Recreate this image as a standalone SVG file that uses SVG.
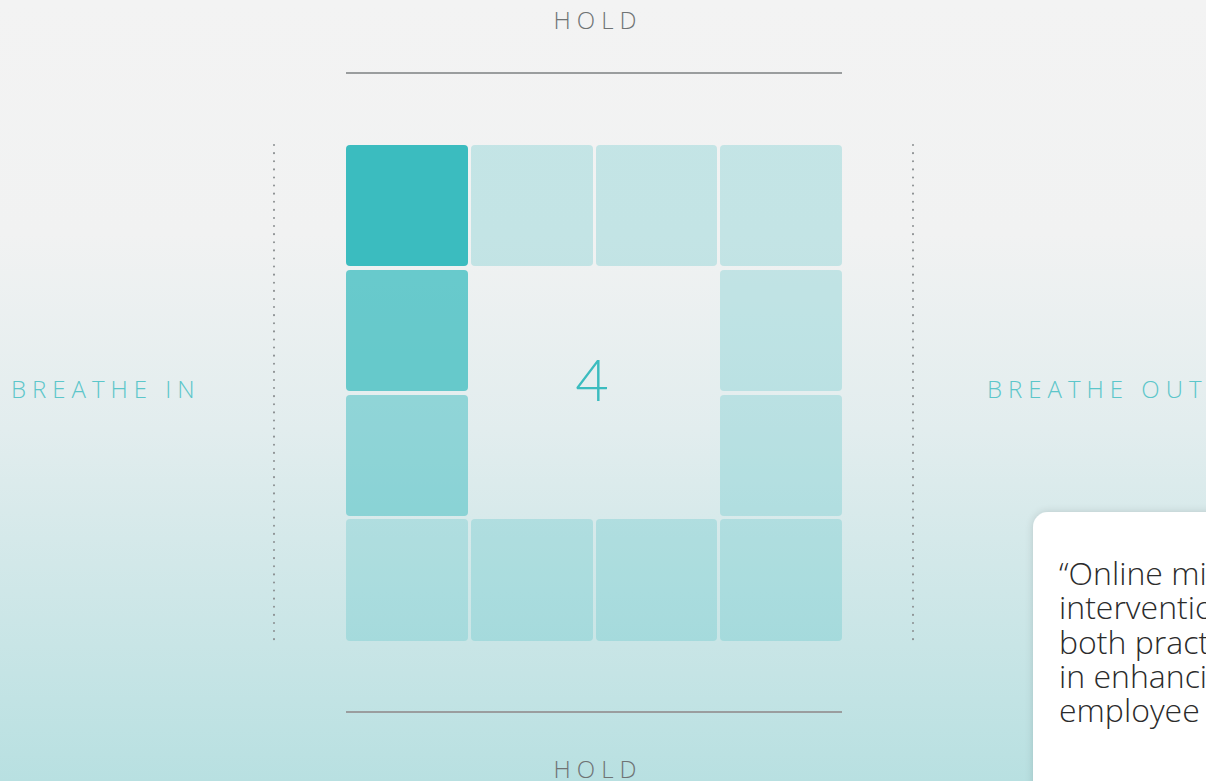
<svg xmlns="http://www.w3.org/2000/svg" width="1206" height="781" viewBox="0 0 1206 781">
<defs>
<linearGradient id="bg" x1="0" y1="0" x2="0" y2="1">
<stop offset="0" stop-color="#f3f3f3"/>
<stop offset="0.3" stop-color="#f1f2f2"/>
<stop offset="0.55" stop-color="#e2edee"/>
<stop offset="1" stop-color="#b8e0e1"/>
</linearGradient>
<filter id="sh" x="-20%" y="-20%" width="140%" height="140%">
<feGaussianBlur in="SourceAlpha" stdDeviation="4"/>
<feOffset dx="0" dy="0"/>
<feComponentTransfer><feFuncA type="linear" slope="0.15"/></feComponentTransfer>
<feMerge><feMergeNode/><feMergeNode in="SourceGraphic"/></feMerge>
</filter>
<style>
.lbl{font-family:"Open Sans","Liberation Sans",sans-serif;font-weight:300;font-size:24px;letter-spacing:6px}
.hold{fill:#6f7374}
.br{fill:#5cc6ca}
.cell{fill:#3bbcbf}
.rule{stroke:#9a9d9e;stroke-width:2}
.dots{stroke:#8a8e90;stroke-width:2;stroke-linecap:round;stroke-dasharray:0.1 8}
.quote{font-family:"Open Sans","Liberation Sans",sans-serif;font-weight:300;font-size:32px;fill:#2b2b2b}
</style>
</defs>
<rect x="0" y="0" width="1206" height="781" fill="url(#bg)"/>

<g id="labels">
<text class="lbl hold" x="598" y="29" text-anchor="middle">HOLD</text>
<text class="lbl hold" x="598" y="778" text-anchor="middle">HOLD</text>
<text class="lbl br" x="11" y="398">BREATHE IN</text>
<text class="lbl br" x="987" y="398">BREATHE OUT</text>
</g>

<g id="guides">
<line class="rule" x1="346" y1="73" x2="842" y2="73"/>
<line class="rule" x1="346" y1="712" x2="842" y2="712"/>
<line class="dots" x1="274" y1="145" x2="274" y2="641"/>
<line class="dots" x1="913" y1="145" x2="913" y2="641"/>
</g>

<g id="grid">
<rect class="cell" x="346" y="145" width="122" height="121" rx="4"/>
<rect class="cell" x="471" y="145" width="122" height="121" rx="4" opacity="0.25"/>
<rect class="cell" x="596" y="145" width="121" height="121" rx="4" opacity="0.25"/>
<rect class="cell" x="720" y="145" width="122" height="121" rx="4" opacity="0.25"/>
<rect class="cell" x="346" y="270" width="122" height="121" rx="4" opacity="0.75"/>
<rect class="cell" x="720" y="270" width="122" height="121" rx="4" opacity="0.25"/>
<rect class="cell" x="346" y="395" width="122" height="121" rx="4" opacity="0.5"/>
<rect class="cell" x="720" y="395" width="122" height="121" rx="4" opacity="0.25"/>
<rect class="cell" x="346" y="519" width="122" height="122" rx="4" opacity="0.25"/>
<rect class="cell" x="471" y="519" width="122" height="122" rx="4" opacity="0.25"/>
<rect class="cell" x="596" y="519" width="121" height="122" rx="4" opacity="0.25"/>
<rect class="cell" x="720" y="519" width="122" height="122" rx="4" opacity="0.25"/>
<text x="592" y="401" text-anchor="middle" font-family="Lato, 'Open Sans', sans-serif" font-weight="300" font-size="58" fill="#3bbcbf">4</text>
</g>

<g id="quote-card">
<rect x="1033" y="512" width="220" height="300" rx="15" fill="#ffffff" filter="url(#sh)"/>
<text class="quote" x="1059" y="585">“Online mi</text>
<text class="quote" x="1059" y="619">interventio</text>
<text class="quote" x="1059" y="654">both pract</text>
<text class="quote" x="1059" y="688">in enhanci</text>
<text class="quote" x="1059" y="722">employee</text>
</g>
</svg>
